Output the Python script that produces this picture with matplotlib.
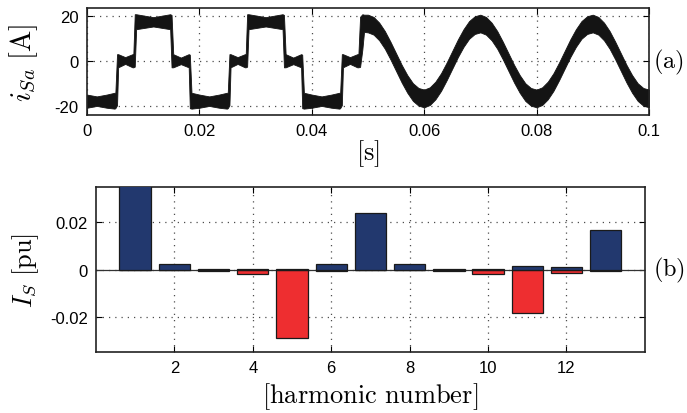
import numpy as np
import matplotlib.pyplot as plt

plt.rcParams['mathtext.fontset'] = 'cm'
plt.rcParams['font.family'] = ['Liberation Sans', 'DejaVu Sans']
plt.rcParams['axes.unicode_minus'] = False

# ---- (a) phase current i_Sa, ripple band edges, times in ms ----
# one 20 ms period of the stepped current (upper / lower edge of the band)
step_t = [0.0, 1.75, 3.5, 4.9, 5.05, 5.35, 5.55, 6.8, 8.1, 8.25, 8.5, 8.75,
          11.8, 14.8, 15.05, 15.35, 16.7, 18.1, 18.3, 18.6]
step_hi = [-14.8, -15.6, -14.8, -14.0, -14.0, 3.0, 3.0, 1.7, 3.0, 3.0, 20.6, 20.6,
           19.3, 20.6, 20.3, 3.0, 1.5, 3.0, 2.8, -14.0]
step_lo = [-20.6, -19.8, -20.6, -21.0, -20.8, -19.5, -2.8, -1.3, -2.8, -2.8, -2.5, 14.0,
           15.2, 14.0, -2.8, -2.8, -1.4, -2.8, -20.8, -21.0]
period_starts = [0.0, 20.0, 40.0]
step_end = 48.1

# switch-over from stepped to sinusoidal current
switch_t = [48.3, 48.6, 49.0, 49.3]
switch_hi = [3.0, 19.5, 20.6, 20.4]
switch_lo = [-2.8, -2.6, 5.0, 12.8]

# sinusoidal part, band centre every 1 ms from 50 to 100 ms
sine_t = list(range(50, 101))
sine_center = [16.5, 15.5, 13.0, 9.3, 4.6, -0.5, -5.6, -10.1, -13.7, -15.8,
               -16.5, -15.5, -13.0, -9.3, -4.6, 0.5, 5.6, 10.1, 13.7, 15.8,
               16.5, 15.5, 13.0, 9.3, 4.6, -0.5, -5.6, -10.1, -13.7, -15.8,
               -16.5, -15.5, -13.0, -9.3, -4.6, 0.5, 5.6, 10.1, 13.7, 15.8,
               16.5, 15.5, 13.0, 9.3, 4.6, -0.5, -5.6, -10.1, -13.7, -15.8,
               -16.5]
sine_halfwidth = 3.9

# ---- (b) harmonic content of the source current ----
harmonics = list(range(1, 14))
is_pos = [1.0, 0.0025, 0.0003, 0.0004, 0.0003, 0.0023, 0.0240, 0.0023, 0.0002,
          0.0003, 0.0013, 0.0010, 0.0167]
is_neg = [0.0, 0.0, -0.0005, -0.0019, -0.0289, -0.0007, 0.0, 0.0, -0.0005,
          -0.0021, -0.0185, -0.0015, -0.0008]

# assemble the band
t_list, hi_list, lo_list = [], [], []
for p0 in period_starts:
    for t, h, l in zip(step_t, step_hi, step_lo):
        if p0 + t <= step_end:
            t_list.append(p0 + t)
            hi_list.append(h)
            lo_list.append(l)
t_list += switch_t
hi_list += switch_hi
lo_list += switch_lo
t_list += sine_t
hi_list += [c + sine_halfwidth for c in sine_center]
lo_list += [c - sine_halfwidth for c in sine_center]
t_sec = np.array(t_list) / 1000.0

fig = plt.figure(figsize=(6.87, 4.14), dpi=100)
ax1 = fig.add_axes([0.1266, 0.7198, 0.818, 0.2577])
ax2 = fig.add_axes([0.1397, 0.1473, 0.799, 0.3986])

label_fs = 19
tag_fs = 17.5
tick_fs = 12

ax1.fill_between(t_sec, lo_list, hi_list, color='#141414', edgecolor='#141414', lw=0.6)
ax1.set_xlim(0, 0.1)
ax1.set_ylim(-23.8, 23.2)
ax1.set_xticks([0, 0.02, 0.04, 0.06, 0.08, 0.1])
ax1.set_xticklabels(['0', '0.02', '0.04', '0.06', '0.08', '0.1'])
ax1.set_yticks([-20, 0, 20])
ax1.set_ylabel(r'$i_{Sa}\ \mathrm{[A]}$', fontsize=20.5)
ax1.set_xlabel(r'$[\mathrm{s}]$', fontsize=label_fs)
ax1.yaxis.set_label_coords(-0.083, 0.5)
ax1.xaxis.set_label_coords(0.5, -0.21)
ax1.text(1.008, 0.5, r'$\mathrm{(a)}$', transform=ax1.transAxes, fontsize=tag_fs,
         ha='left', va='center')

ax2.bar(harmonics, is_neg, 0.8, color='#ee2e30', edgecolor='#1a1a1a', lw=0.9, zorder=3)
ax2.bar(harmonics, is_pos, 0.8, color='#22386e', edgecolor='#1a1a1a', lw=0.9, zorder=3)
ax2.axhline(0, color='#333333', lw=0.9, zorder=2)
ax2.set_xlim(0, 14)
ax2.set_ylim(-0.035, 0.035)
ax2.set_xticks([2, 4, 6, 8, 10, 12])
ax2.set_yticks([-0.02, 0, 0.02])
ax2.set_yticklabels(['-0.02', '0', '0.02'])
ax2.set_ylabel(r'$I_S\ \mathrm{[pu]}$', fontsize=label_fs)
ax2.set_xlabel(r'$\mathrm{[harmonic\ number]}$', fontsize=label_fs)
ax2.yaxis.set_label_coords(-0.10, 0.5)
ax2.xaxis.set_label_coords(0.5, -0.17)
ax2.text(1.014, 0.5, r'$\mathrm{(b)}$', transform=ax2.transAxes, fontsize=tag_fs,
         ha='left', va='center')

for ax in (ax1, ax2):
    ax.grid(True, linestyle=(0, (1, 4)), color='0.3', lw=0.9)
    ax.set_axisbelow(True)
    ax.tick_params(direction='in', top=True, right=True, length=4, width=0.8,
                   labelsize=tick_fs, pad=6)
    for sp in ax.spines.values():
        sp.set_linewidth(1.2)
        sp.set_color('#222222')

fig.savefig('out.png', dpi=100)
